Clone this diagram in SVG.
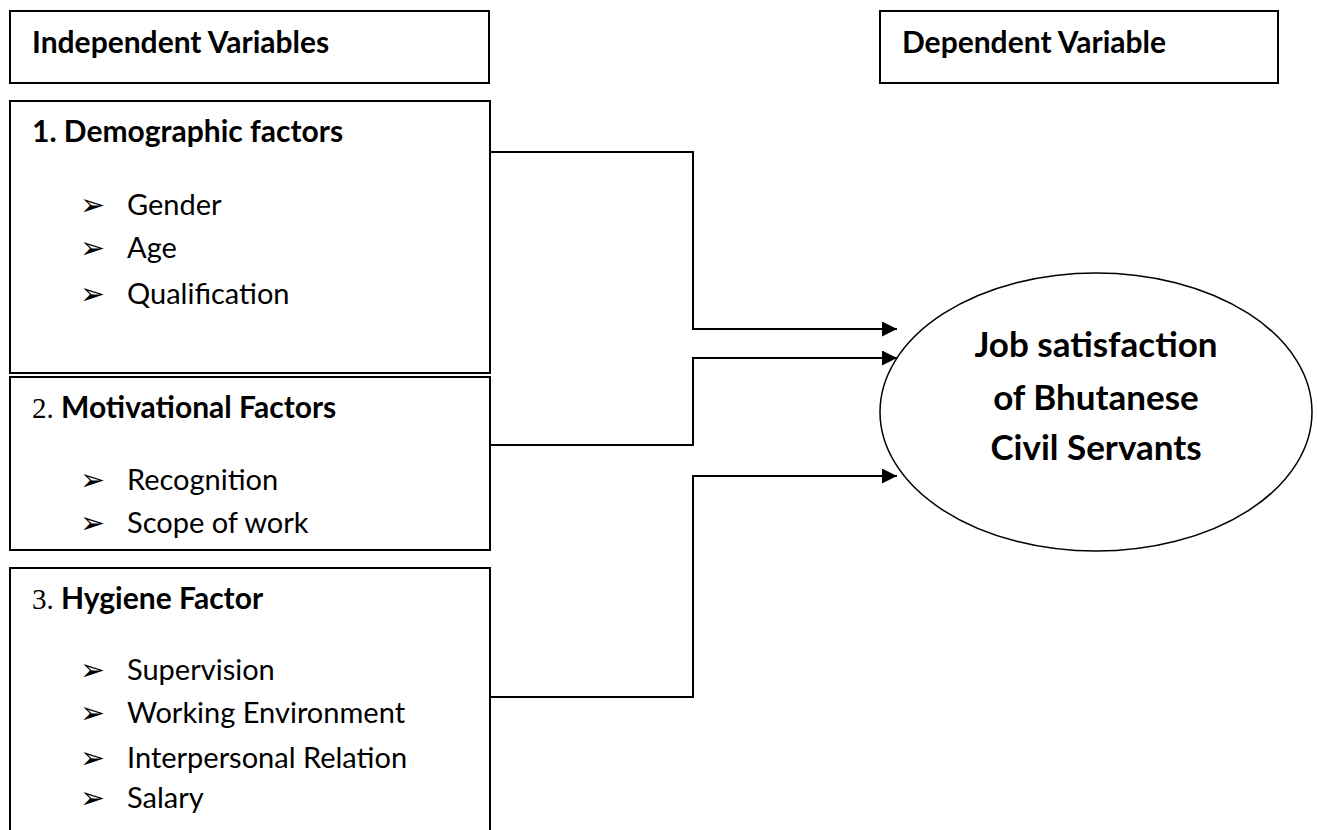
<svg xmlns="http://www.w3.org/2000/svg" width="1317" height="830" viewBox="0 0 1317 830">
<style>
.box{fill:#fff;stroke:#000;stroke-width:2}
.t{font-family:Lato,"Open Sans",sans-serif;font-size:29px;fill:#000}
.b{font-weight:bold;font-size:30px}
.s{font-family:"Liberation Serif",serif;font-weight:normal;font-size:29px}
.bul{font-family:"DejaVu Sans",sans-serif;font-size:30px}
.con{fill:none;stroke:#000;stroke-width:2}
.et{font-family:Lato,"Open Sans",sans-serif;font-size:35px;font-weight:bold;text-anchor:middle}
</style>
<defs>
<marker id="ah" markerWidth="16" markerHeight="16" refX="15" refY="7.5" orient="auto" markerUnits="userSpaceOnUse">
<path d="M0,0 L15,7.5 L0,15 Z" fill="#000"/>
</marker>
</defs>
<rect width="1317" height="830" fill="#fff"/>
<g id="indep-header">
<rect class="box" x="10" y="11" width="479" height="72"/>
<text class="t b" x="32" y="53">Independent Variables</text>
</g>
<g id="dep-header">
<rect class="box" x="880" y="11" width="398" height="72"/>
<text class="t b" x="902" y="53">Dependent Variable</text>
</g>
<g id="demographic">
<rect class="box" x="10" y="101" width="480" height="272"/>
<text class="t b" x="32" y="142">1. Demographic factors</text>
<text class="t bul" x="80" y="215">➢</text><text class="t" x="127" y="215">Gender</text>
<text class="t bul" x="80" y="258">➢</text><text class="t" x="127" y="258">Age</text>
<text class="t bul" x="80" y="304">➢</text><text class="t" x="127" y="304">Qualification</text>
</g>
<g id="motivational">
<rect class="box" x="10" y="377" width="480" height="173"/>
<text class="t" x="32" y="418"><tspan class="s">2. </tspan><tspan class="b">Motivational Factors</tspan></text>
<text class="t bul" x="80" y="490">➢</text><text class="t" x="127" y="490">Recognition</text>
<text class="t bul" x="80" y="533">➢</text><text class="t" x="127" y="533">Scope of work</text>
</g>
<g id="hygiene">
<rect class="box" x="10" y="568" width="480" height="290"/>
<text class="t" x="32" y="609"><tspan class="s">3. </tspan><tspan class="b">Hygiene Factor</tspan></text>
<text class="t bul" x="80" y="680">➢</text><text class="t" x="127" y="680">Supervision</text>
<text class="t bul" x="80" y="723">➢</text><text class="t" x="127" y="723">Working Environment</text>
<text class="t bul" x="80" y="768">➢</text><text class="t" x="127" y="768">Interpersonal Relation</text>
<text class="t bul" x="80" y="808">➢</text><text class="t" x="127" y="808">Salary</text>
</g>
<g id="job-satisfaction">
<ellipse cx="1096" cy="412" rx="216" ry="139" fill="#fff" stroke="#000" stroke-width="1.5"/>
<text class="et" x="1096" y="357">Job satisfaction</text>
<text class="et" x="1096" y="410">of Bhutanese</text>
<text class="et" x="1096" y="460">Civil Servants</text>
</g>
<g id="connectors">
<polyline class="con" points="490,152 693,152 693,329 897,329" marker-end="url(#ah)"/>
<polyline class="con" points="490,445 693,445 693,358 897,358" marker-end="url(#ah)"/>
<polyline class="con" points="490,697 693,697 693,476 897,476" marker-end="url(#ah)"/>
</g>
</svg>
